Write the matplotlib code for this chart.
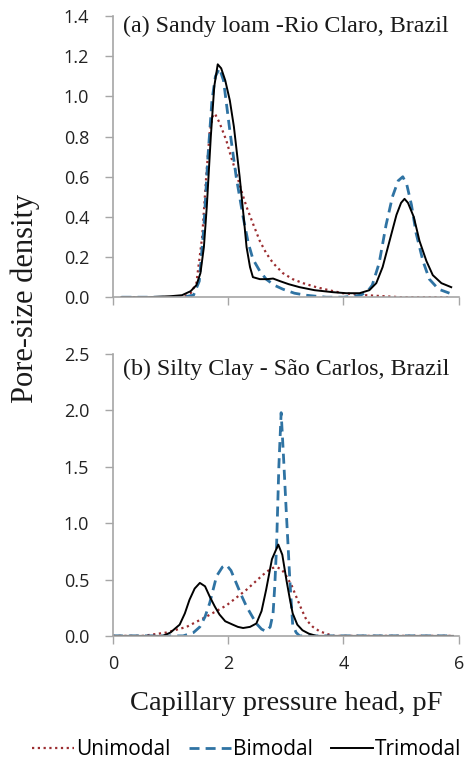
import numpy as np
import matplotlib
matplotlib.use("Agg")
import matplotlib.pyplot as plt

# ---- panel (a): Sandy loam, Rio Claro ----
a_uni_x = [0.15, 0.8, 1.2, 1.35, 1.45, 1.55, 1.62, 1.68, 1.73, 1.77, 1.85, 1.97, 2.05, 2.14,
           2.23, 2.32, 2.44, 2.55, 2.66, 2.78, 2.95, 3.12, 3.3, 3.53, 3.75, 3.99, 4.2, 4.4,
           4.7, 5.0, 5.5, 5.87]
a_uni_y = [0.0, 0.0, 0.0, 0.02, 0.07, 0.3, 0.6, 0.82, 0.9, 0.915, 0.87, 0.78, 0.7, 0.62,
           0.53, 0.45, 0.36, 0.28, 0.22, 0.17, 0.12, 0.09, 0.07, 0.05, 0.035, 0.02, 0.015, 0.01,
           0.005, 0.0, 0.0, 0.0]

a_bi_x = [0.15, 0.8, 1.2, 1.4, 1.5, 1.58, 1.65, 1.72, 1.78, 1.85, 1.92, 2.03, 2.14, 2.26,
          2.35, 2.43, 2.55, 2.66, 2.8, 2.95, 3.15, 3.35, 3.7, 4.0, 4.3, 4.42, 4.5, 4.62,
          4.74, 4.85, 4.95, 5.03, 5.1, 5.18, 5.26, 5.38, 5.49, 5.65, 5.84]
a_bi_y = [0.0, 0.0, 0.0, 0.01, 0.08, 0.35, 0.7, 0.98, 1.1, 1.14, 1.08, 0.83, 0.6, 0.4,
          0.27, 0.19, 0.13, 0.09, 0.06, 0.04, 0.02, 0.01, 0.0, 0.0, 0.01, 0.03, 0.06, 0.17,
          0.36, 0.5, 0.58, 0.6, 0.56, 0.46, 0.32, 0.18, 0.09, 0.04, 0.02]

a_tri_x = [0.15, 0.6, 1.0, 1.2, 1.35, 1.45, 1.52, 1.58, 1.63, 1.7, 1.76, 1.82, 1.88, 1.95,
           2.03, 2.1, 2.2, 2.27, 2.32, 2.38, 2.43, 2.55, 2.68, 2.78, 2.9, 3.05, 3.24, 3.5,
           3.82, 4.05, 4.28, 4.45, 4.57, 4.68, 4.8, 4.92, 5.0, 5.06, 5.12, 5.22, 5.32,
           5.44, 5.55, 5.7, 5.87]
a_tri_y = [0.0, 0.0, 0.005, 0.01, 0.03, 0.06, 0.12, 0.25, 0.45, 0.8, 1.05, 1.16, 1.14, 1.08,
           0.98, 0.85, 0.6, 0.4, 0.25, 0.15, 0.1, 0.09, 0.09, 0.093, 0.08, 0.065, 0.05, 0.035,
           0.025, 0.02, 0.02, 0.035, 0.07, 0.15, 0.28, 0.41, 0.47, 0.49, 0.47, 0.4, 0.28,
           0.18, 0.11, 0.07, 0.05]

# ---- panel (b): Silty clay, Sao Carlos ----
b_uni_x = [0.0, 0.52, 0.93, 1.28, 1.62, 1.97, 2.32, 2.6, 2.75, 2.84, 2.93, 3.01, 3.1, 3.18,
           3.27, 3.36, 3.47, 3.59, 3.82, 4.2, 5.0, 5.9]
b_uni_y = [0.0, 0.0, 0.03, 0.08, 0.17, 0.27, 0.41, 0.54, 0.6, 0.61, 0.59, 0.53, 0.45, 0.35,
           0.24, 0.14, 0.08, 0.04, 0.0, 0.0, 0.0, 0.0]

b_bi_x = [0.0, 0.8, 1.22, 1.4, 1.51, 1.6, 1.68, 1.8, 1.9, 1.97, 2.05, 2.14, 2.23, 2.32,
          2.41, 2.49, 2.58, 2.66, 2.73, 2.78, 2.81, 2.84, 2.88, 2.92, 2.96, 3.01, 3.04,
          3.07, 3.12, 3.18, 3.24, 3.5, 4.5, 5.9]
b_bi_y = [0.0, 0.0, 0.0, 0.03, 0.08, 0.17, 0.29, 0.53, 0.61, 0.63, 0.58, 0.47, 0.36, 0.26,
          0.18, 0.11, 0.06, 0.04, 0.08, 0.2, 0.45, 0.79, 1.5, 1.98, 1.6, 1.09, 0.8,
          0.5, 0.1, 0.03, 0.0, 0.0, 0.0, 0.0]

b_tri_x = [0.0, 0.5, 0.87, 1.0, 1.16, 1.25, 1.33, 1.42, 1.51, 1.6, 1.68, 1.77, 1.85, 1.95,
           2.08, 2.17, 2.26, 2.38, 2.49, 2.58, 2.66, 2.76, 2.87, 2.94, 3.01, 3.07, 3.12,
           3.2, 3.29, 3.4, 3.53, 4.0, 5.0, 5.9]
b_tri_y = [0.0, 0.0, 0.0, 0.03, 0.1, 0.2, 0.32, 0.42, 0.47, 0.44, 0.35, 0.26, 0.19, 0.13,
           0.1, 0.08, 0.07, 0.08, 0.11, 0.22, 0.41, 0.68, 0.81, 0.72, 0.5, 0.33, 0.2,
           0.1, 0.05, 0.02, 0.0, 0.0, 0.0, 0.0]

x_ticks = [0, 2, 4, 6]
a_yticks = [0.0, 0.2, 0.4, 0.6, 0.8, 1.0, 1.2, 1.4]
b_yticks = [0.0, 0.5, 1.0, 1.5, 2.0, 2.5]

red = '#9B2D30'
blue = '#2F73A3'
spine_gray = '#A6A6A6'
tick_font = 'Open Sans'
serif = 'Liberation Serif'
text_col = '#1a1a1a'

fig = plt.figure(figsize=(4.7, 7.68), dpi=100)
ax1 = fig.add_axes([0.240, 0.613, 0.736, 0.366])
ax2 = fig.add_axes([0.240, 0.172, 0.736, 0.367])

panels = [
    (ax1, a_uni_x, a_uni_y, a_bi_x, a_bi_y, a_tri_x, a_tri_y, a_yticks, 1.4,
     '(a) Sandy loam -Rio Claro, Brazil', 1.0),
    (ax2, b_uni_x, b_uni_y, b_bi_x, b_bi_y, b_tri_x, b_tri_y, b_yticks, 2.5,
     '(b) Silty Clay - S\u00e3o Carlos, Brazil', 0.983),
]

handles = []
for ax, ux, uy, bx, by, tx, ty, yt, ymax, title, ty_pos in panels:
    l1, = ax.plot(ux, uy, color=red, lw=1.6, linestyle=(0, (1, 1.6)), label='Unimodal')
    l2, = ax.plot(bx, by, color=blue, lw=2.0, linestyle=(0, (3.6, 2.2)), label='Bimodal')
    l3, = ax.plot(tx, ty, color='black', lw=1.4, label='Trimodal')
    handles = [l1, l2, l3]
    ax.set_xlim(0, 6)
    ax.set_ylim(0, ymax)
    ax.set_xticks(x_ticks)
    ax.set_yticks(yt)
    ax.set_yticklabels(['{:.1f}'.format(v) for v in yt], family=tick_font, fontsize=13,
                       color='#222222')
    ax.tick_params(axis='y', direction='out', length=6, width=1, color=spine_gray, pad=11)
    ax.tick_params(axis='x', direction='out', length=6, width=1, color=spine_gray, pad=8)
    for s in ['top', 'right']:
        ax.spines[s].set_visible(False)
    for s in ['left', 'bottom']:
        ax.spines[s].set_color(spine_gray)
        ax.spines[s].set_linewidth(1.2)
    ax.text(0.03, ty_pos, title, transform=ax.transAxes, ha='left', va='top',
            family=serif, fontsize=17.3, color=text_col)

ax1.set_xticklabels([])
ax2.set_xticklabels([str(v) for v in x_ticks], family=tick_font, fontsize=13, color='#222222')

ax2.set_xlabel('Capillary pressure head, pF', family=serif, fontsize=20.5, color=text_col,
               labelpad=13)
fig.text(0.053, 0.611, 'Pore-size density', rotation=90, ha='center', va='center',
         family=serif, fontsize=22, color=text_col)

fig.legend(handles=handles, loc='center', bbox_to_anchor=(0.525, 0.024), ncol=3,
           frameon=False, prop={'family': tick_font, 'size': 15}, handlelength=2.0,
           handletextpad=0.1, columnspacing=0.9, borderaxespad=0.0)

plt.savefig('out.png', dpi=100)
plt.close()
